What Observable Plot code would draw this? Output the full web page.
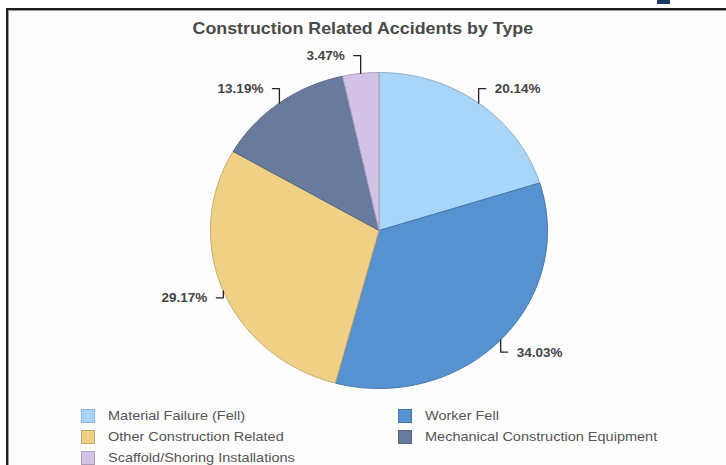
<!DOCTYPE html>
<html>
<head>
<meta charset="utf-8">
<script src="https://cdn.jsdelivr.net/npm/d3@7"></script>
<script src="https://cdn.jsdelivr.net/npm/@observablehq/plot@0.6"></script>
<style>
  html, body { margin: 0; padding: 0; background: #ffffff; }
  body { width: 726px; height: 465px; position: relative; overflow: hidden; font-family: "Liberation Sans", Arial, sans-serif; }
  #frame { position: absolute; left: 6px; top: 8px; width: 740px; height: 480px; border-top: 2px solid #1e1e1e; border-left: 2px solid #1e1e1e; background: #fdfdfd; box-shadow: inset 1px 1px 0 #9a9a9a; }
  #mark { position: absolute; left: 657px; top: 0; width: 13px; height: 4px; background: #1d3766; }
  #title { position: absolute; left: 0; width: 726px; top: 19px; text-align: center; font-weight: bold; font-size: 16.5px; color: #4a4a4a; transform: scaleX(1.08); transform-origin: 365px 0; }
  #chart { position: absolute; left: 0; top: 0; }
  #legend { position: absolute; left: 81px; top: 407px; display: grid; grid-template-columns: 317px 300px; row-gap: 4px; font-size: 13.6px; color: #555; }
  .item { display: flex; align-items: center; height: 17px; }
  .sw { width: 12px; height: 12px; border: 1px solid; margin-right: 13px; box-sizing: content-box; flex: none; }
  .tx { display: inline-block; transform: scaleX(1.067); transform-origin: 0 50%; white-space: nowrap; }
</style>
</head>
<body>
<div id="mark"></div>
<div id="frame"></div>
<div id="chart"></div>
<div id="title">Construction Related Accidents by Type</div>
<div id="legend"></div>
<script>
// ---- data ----
const categories = ["Material Failure (Fell)", "Worker Fell", "Other Construction Related", "Mechanical Construction Equipment", "Scaffold/Shoring Installations"];
const percents = [20.14, 34.03, 29.17, 13.19, 3.47];
const colors = ["#a8d5f8", "#5592cf", "#f0d085", "#687b9d", "#d2c3e6"];
const labels = ["20.14%", "34.03%", "29.17%", "13.19%", "3.47%"];

// ---- layout ----
const W = 726, H = 400;
const xRange = [210, 547], yRange = [388, 72];
const rx = (xRange[1] - xRange[0]) / 2, ry = (yRange[0] - yRange[1]) / 2;

const total = d3.sum(percents);
let acc = 0;
const slices = categories.map((c, i) => {
  const a0 = acc / total * 2 * Math.PI;
  acc += percents[i];
  const a1 = acc / total * 2 * Math.PI;
  const n = Math.max(4, Math.ceil((a1 - a0) / 0.01));
  const pts = [{x: 0, y: 0}];
  for (let k = 0; k <= n; k++) {
    const a = a0 + (a1 - a0) * k / n;
    pts.push({x: Math.sin(a), y: Math.cos(a)});
  }
  pts.push({x: 0, y: 0});
  return {name: c, color: colors[i], label: labels[i], a0, a1, mid: (a0 + a1) / 2, pts};
});

// leaders: vertical step out of the rim, then a short horizontal tick
const leaders = slices.map(s => {
  const ex = Math.sin(s.mid), ey = Math.cos(s.mid);
  const side = ex >= 0 ? 1 : -1;
  const vy = 18 * Math.cos(s.mid) / ry;   // pixels -> data units
  const hx = 7 / rx;
  const p1 = {x: ex, y: ey + vy};
  const p2 = {x: ex + side * hx, y: ey + vy};
  return {pts: [{x: ex, y: ey}, p1, p2], end: p2, side, label: s.label};
});

const marks = [];
slices.forEach(s => {
  marks.push(Plot.line(s.pts, {x: "x", y: "y", fill: s.color, stroke: d3.color(s.color).darker(0.6).formatHex(), strokeWidth: 1, strokeLinejoin: "round", curve: "linear"}));
});
leaders.forEach(l => {
  marks.push(Plot.line(l.pts, {x: "x", y: "y", stroke: "#222", strokeWidth: 1.3}));
  marks.push(Plot.text([l.end], {x: "x", y: "y", text: () => l.label, dx: l.side * 9, textAnchor: l.side > 0 ? "start" : "end", fontWeight: "bold", fontSize: 13.5, fill: "#444"}));
});

const plot = Plot.plot({
  width: W, height: H,
  marginLeft: xRange[0], marginRight: W - xRange[1], marginTop: yRange[1], marginBottom: H - yRange[0],
  x: {domain: [-1, 1], axis: null},
  y: {domain: [-1, 1], axis: null},
  style: {background: "transparent", fontFamily: "Liberation Sans, Arial, sans-serif", overflow: "visible"},
  marks
});
document.getElementById("chart").appendChild(plot);

// legend
const lg = document.getElementById("legend");
categories.forEach((c, i) => {
  const it = document.createElement("div");
  it.className = "item";
  const sw = document.createElement("div");
  sw.className = "sw";
  sw.style.background = colors[i];
  sw.style.borderColor = d3.color(colors[i]).darker(0.6).formatHex();
  const tx = document.createElement("span");
  tx.className = "tx";
  tx.textContent = c;
  it.appendChild(sw); it.appendChild(tx);
  lg.appendChild(it);
});
</script>
</body>
</html>
